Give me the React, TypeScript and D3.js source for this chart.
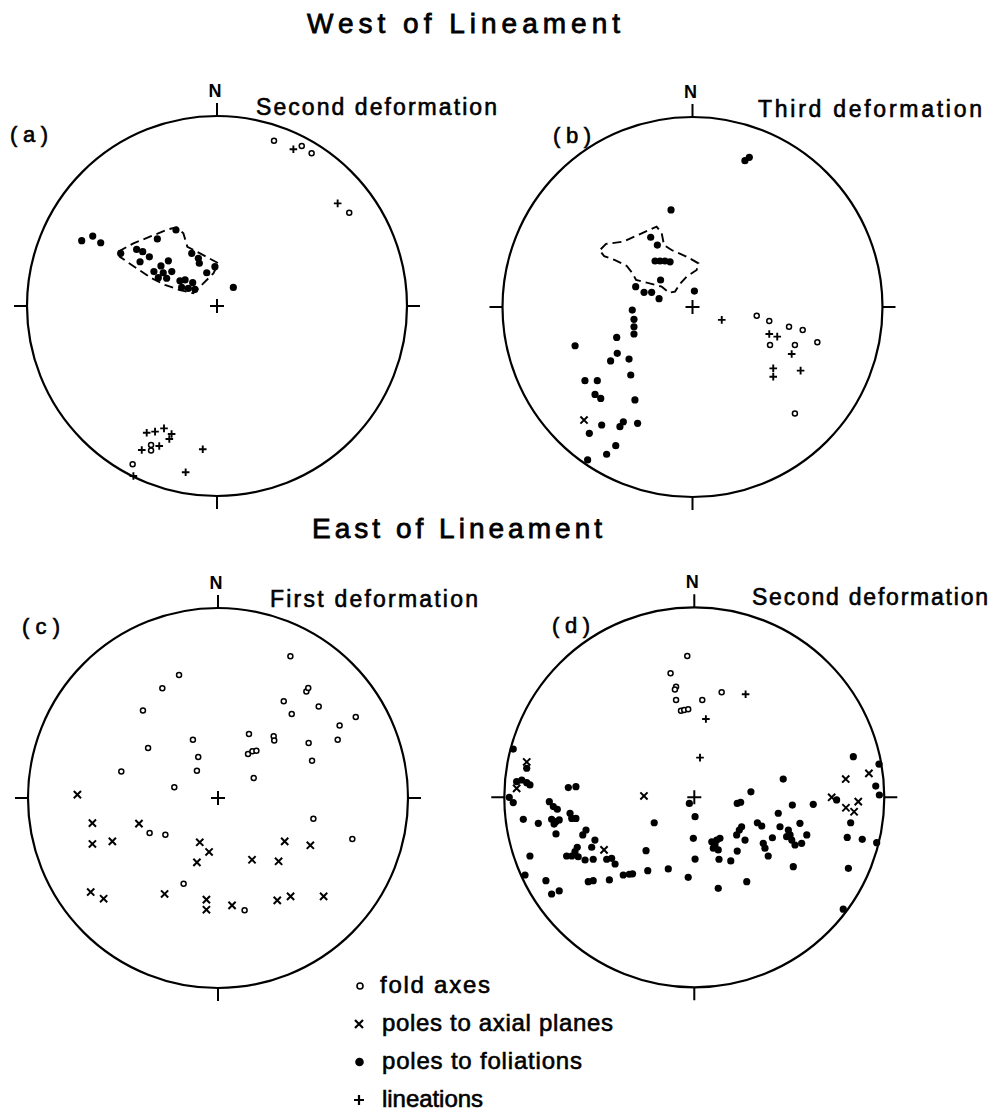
import React from 'react';
import * as d3 from 'd3';

// stereonet points as [east, north] in the unit circle
const aFoldAxes = [
  [0.3, 0.87], [0.446, 0.842], [0.498, 0.804], [0.696, 0.491],
  [-0.444, -0.833], [-0.347, -0.732], [-0.347, -0.761],
];
const aLineations = [
  [0.402, 0.825], [0.635, 0.54], [-0.44, -0.895], [-0.37, -0.667], [-0.326, -0.661],
  [-0.279, -0.644], [-0.239, -0.674], [-0.251, -0.7], [-0.304, -0.737], [-0.396, -0.758],
  [-0.075, -0.754], [-0.165, -0.875],
];
const aFoliations = [
  [-0.712, 0.344], [-0.654, 0.368], [-0.612, 0.333],
  [-0.507, 0.277], [-0.423, 0.298], [-0.391, 0.286], [-0.356, 0.259], [-0.405, 0.233],
  [-0.314, 0.353], [-0.216, 0.4], [-0.256, 0.238], [-0.295, 0.211], [-0.332, 0.181],
  [-0.283, 0.175], [-0.309, 0.149], [-0.265, 0.146], [-0.238, 0.181], [-0.195, 0.133],
  [-0.168, 0.137], [-0.186, 0.098], [-0.151, 0.093], [-0.116, 0.088], [-0.128, 0.123],
  [-0.133, 0.277], [-0.098, 0.251], [-0.093, 0.225], [-0.054, 0.175], [-0.011, 0.207],
  [0.086, 0.098],
];
const aContour = [
  [-0.519, 0.286], [-0.44, 0.33], [-0.353, 0.365], [-0.256, 0.404], [-0.212, 0.414],
  [-0.177, 0.383], [-0.156, 0.312], [-0.089, 0.277], [0.007, 0.225], [-0.019, 0.172],
  [-0.072, 0.119], [-0.125, 0.067], [-0.195, 0.084], [-0.274, 0.111], [-0.344, 0.146],
  [-0.423, 0.198], [-0.511, 0.259],
];

const bFoldAxes = [
  [0.338, -0.046], [0.404, -0.074], [0.508, -0.104], [0.58, -0.121],
  [0.408, -0.2], [0.539, -0.2], [0.657, -0.186], [0.539, -0.56],
];
const bAxialPoles = [[-0.571, -0.595]];
const bLineations = [
  [0.154, -0.068], [0.404, -0.142], [0.446, -0.156], [0.522, -0.247],
  [0.425, -0.323], [0.425, -0.367], [0.569, -0.335],
];
const bFoliations = [
  [0.276, 0.77], [0.299, 0.788], [-0.113, 0.511],
  [-0.22, 0.367], [-0.185, 0.326],
  [-0.197, 0.242], [-0.171, 0.242], [-0.145, 0.242], [-0.118, 0.238], [-0.168, 0.142],
  [-0.299, 0.107], [-0.255, 0.077], [-0.215, 0.077], [-0.176, 0.044], [0.01, 0.084],
  [-0.317, -0.016], [-0.308, -0.065], [-0.308, -0.104], [-0.308, -0.142],
  [-0.399, -0.16], [-0.618, -0.204], [-0.396, -0.244], [-0.431, -0.284], [-0.334, -0.274],
  [-0.325, -0.358], [-0.566, -0.388], [-0.501, -0.388], [-0.513, -0.46], [-0.483, -0.481],
  [-0.303, -0.489], [-0.478, -0.621], [-0.382, -0.63], [-0.364, -0.604], [-0.289, -0.612],
  [-0.543, -0.665], [-0.404, -0.73], [-0.452, -0.775], [-0.552, -0.805],
];
const bContour = [
  [-0.483, 0.304], [-0.455, 0.332], [-0.364, 0.344], [-0.276, 0.384], [-0.189, 0.423],
  [-0.162, 0.388], [-0.15, 0.326], [-0.11, 0.3], [-0.031, 0.265], [0.031, 0.23],
  [0.022, 0.195], [-0.031, 0.16], [-0.066, 0.121], [-0.092, 0.081], [-0.122, 0.075],
  [-0.162, 0.107], [-0.241, 0.128], [-0.297, 0.142], [-0.315, 0.177], [-0.346, 0.216],
  [-0.408, 0.247], [-0.465, 0.268], [-0.483, 0.291],
];

const cFoldAxes = [
  [0.381, 0.746], [-0.205, 0.647], [-0.293, 0.577], [-0.395, 0.46], [0.465, 0.561],
  [0.475, 0.579], [0.346, 0.509], [0.53, 0.482], [0.388, 0.442], [0.725, 0.426],
  [0.64, 0.382], [0.163, 0.337], [0.293, 0.325], [0.296, 0.302], [-0.132, 0.307],
  [-0.368, 0.263], [0.477, 0.289], [0.63, 0.307], [-0.104, 0.216], [0.158, 0.232],
  [0.181, 0.246], [0.202, 0.249], [0.495, 0.196], [-0.509, 0.14], [-0.111, 0.144],
  [0.188, 0.105], [-0.23, 0.056], [0.502, -0.109], [-0.36, -0.184], [-0.277, -0.193],
  [0.707, -0.216], [-0.181, -0.451], [0.14, -0.591],
];
const cAxialPoles = [
  [-0.74, 0.018], [-0.661, -0.132], [-0.416, -0.135], [-0.661, -0.242], [-0.556, -0.228],
  [-0.096, -0.233], [-0.047, -0.284], [-0.111, -0.339], [0.179, -0.325], [0.319, -0.333],
  [0.351, -0.228], [0.486, -0.249], [-0.67, -0.495], [-0.602, -0.53], [-0.281, -0.505],
  [-0.061, -0.535], [-0.061, -0.588], [0.074, -0.565], [0.312, -0.539], [0.382, -0.518],
  [0.556, -0.518],
];

const dFoldAxes = [
  [-0.037, 0.744], [-0.125, 0.653], [-0.096, 0.582], [-0.102, 0.568], [-0.096, 0.512],
  [-0.07, 0.456], [-0.053, 0.46], [-0.032, 0.463], [0.042, 0.512], [0.144, 0.553],
];
const dLineations = [[0.27, 0.542], [0.061, 0.412], [0.03, 0.209]];
const dAxialPoles = [
  [-0.882, 0.186], [-0.935, 0.047], [-0.265, 0.007], [-0.475, -0.277], [0.723, 0.0],
  [0.797, 0.096], [0.919, 0.126], [0.798, -0.055], [0.863, -0.023], [0.841, -0.076],
];
const dFoliations = [
  [-0.953, 0.254], [-0.882, 0.153], [-0.935, 0.082], [-0.908, 0.091], [-0.882, 0.077],
  [-0.865, 0.065], [-0.974, 0.0], [-0.953, -0.028], [-0.9, -0.116], [-0.821, -0.137],
  [-0.663, 0.051], [-0.623, 0.056], [-0.763, -0.023], [-0.742, -0.049], [-0.721, -0.063],
  [-0.751, -0.116], [-0.728, -0.128], [-0.711, -0.119], [-0.738, -0.141], [-0.654, -0.084],
  [-0.645, -0.111], [-0.623, -0.111], [-0.728, -0.193], [-0.57, -0.172], [-0.587, -0.198],
  [-0.523, -0.225], [-0.54, -0.263], [-0.616, -0.263], [-0.628, -0.286], [-0.645, -0.309],
  [-0.672, -0.309], [-0.611, -0.313], [-0.575, -0.33], [-0.532, -0.326], [-0.461, -0.326],
  [-0.435, -0.321], [-0.417, -0.351], [-0.865, -0.309], [-0.891, -0.409], [-0.781, -0.439],
  [-0.751, -0.509], [-0.711, -0.493], [-0.558, -0.444], [-0.532, -0.439], [-0.447, -0.435],
  [-0.374, -0.409], [-0.342, -0.405], [-0.325, -0.403], [-0.245, -0.386], [-0.137, -0.377],
  [-0.032, -0.421], [-0.254, -0.281], [-0.211, -0.134], [-0.026, -0.032], [0.004, -0.102],
  [-0.005, -0.216], [0.004, -0.325],
  [0.126, -0.479], [0.276, -0.444], [0.298, 0.029], [0.226, -0.032], [0.244, -0.026],
  [0.468, 0.096], [0.092, -0.234], [0.109, -0.251], [0.118, -0.225], [0.135, -0.216],
  [0.1, -0.268], [0.126, -0.277], [0.13, -0.326], [0.192, -0.335], [0.226, -0.283],
  [0.267, -0.225], [0.237, -0.172], [0.249, -0.155], [0.223, -0.198], [0.332, -0.134],
  [0.355, -0.151], [0.363, -0.242], [0.372, -0.268], [0.389, -0.309], [0.411, -0.213],
  [0.442, -0.084], [0.451, -0.155], [0.516, -0.041], [0.495, -0.172], [0.504, -0.198],
  [0.513, -0.225], [0.53, -0.251], [0.486, -0.207], [0.556, -0.137], [0.565, -0.242],
  [0.592, -0.198], [0.521, -0.365], [0.626, -0.037], [0.749, -0.014], [0.972, 0.175],
  [0.955, 0.059], [0.974, 0.012], [0.823, -0.134], [0.805, -0.211], [0.884, -0.221],
  [0.96, -0.239], [0.811, -0.374], [0.837, 0.214], [0.784, -0.589],
];

const legendLabels = ['fold axes', 'poles to axial planes', 'poles to foliations', 'lineations'];

const W = 1003;
const H = 1114;
const R = 190;
const FONT = "'Liberation Sans', Arial, sans-serif";
// thin outline on the glyphs to get the heavier lettering-guide look
const INK = { fill: '#000', stroke: '#000', strokeWidth: 0.6 };

const panels = [
  {
    id: '(a)', cx: 217, cy: 306, title: 'Second deformation', tx: 256, ty: 115, tw: 241,
    lx: 10, ly: 142, fold: aFoldAxes, axial: [], fol: aFoliations, lin: aLineations, contour: aContour,
  },
  {
    id: '(b)', cx: 692.5, cy: 307, title: 'Third deformation', tx: 758, ty: 117, tw: 224,
    lx: 553, ly: 143, fold: bFoldAxes, axial: bAxialPoles, fol: bFoliations, lin: bLineations, contour: bContour,
  },
  {
    id: '(c)', cx: 218, cy: 798, title: 'First deformation', tx: 270, ty: 607, tw: 208,
    lx: 22, ly: 634, fold: cFoldAxes, axial: cAxialPoles, fol: [], lin: [], contour: null,
  },
  {
    id: '(d)', cx: 694.3, cy: 797.3, title: 'Second deformation', tx: 752, ty: 605, tw: 236,
    lx: 552, ly: 633, fold: dFoldAxes, axial: dAxialPoles, fol: dFoliations, lin: dLineations, contour: null,
  },
];

const plus = (x, y, s) => `M${x - s},${y}H${x + s}M${x},${y - s}V${y + s}`;
const cross = (x, y, s) => `M${x - s},${y - s}L${x + s},${y + s}M${x + s},${y - s}L${x - s},${y + s}`;

function Stereonet({ p }) {
  const x = d3.scaleLinear().domain([-1, 1]).range([p.cx - R, p.cx + R]);
  const y = d3.scaleLinear().domain([-1, 1]).range([p.cy + R, p.cy - R]);
  const r = x(1) - x(0);
  const line = d3.line().x((d) => x(d[0])).y((d) => y(d[1])).curve(d3.curveLinearClosed);
  const tick = 13;

  return (
    <g>
      <circle cx={x(0)} cy={y(0)} r={r} fill="none" stroke="#000" strokeWidth={2.2} />
      <path
        d={`M${x(0)},${y(1)}V${y(1) - tick}M${x(0)},${y(-1)}V${y(-1) + tick}M${x(-1)},${y(0)}H${x(-1) - tick}M${x(1)},${y(0)}H${x(1) + tick}`}
        stroke="#000" strokeWidth={2} fill="none"
      />
      <path d={plus(x(0), y(0), 7)} stroke="#000" strokeWidth={2} fill="none" />
      <text x={x(0) - 2} y={y(1) - 19} textAnchor="middle" fontSize={18} fontWeight="bold" fontFamily={FONT}>N</text>
      <text x={p.tx} y={p.ty} fontSize={23} fontFamily={FONT} textLength={p.tw} lengthAdjust="spacing" {...INK}>{p.title}</text>
      <text x={p.lx} y={p.ly} fontSize={22} fontFamily={FONT} textLength={38} lengthAdjust="spacing" {...INK}>{p.id}</text>

      {p.contour && (
        <path d={line(p.contour)} fill="none" stroke="#000" strokeWidth={1.9} strokeDasharray="9 5" />
      )}
      {p.fol.map((d, i) => (
        <circle key={'f' + i} cx={x(d[0])} cy={y(d[1])} r={3.6} fill="#000" />
      ))}
      {p.fold.map((d, i) => (
        <circle key={'o' + i} cx={x(d[0])} cy={y(d[1])} r={2.5} fill="#fff" stroke="#000" strokeWidth={1.5} />
      ))}
      {p.axial.map((d, i) => (
        <path key={'x' + i} d={cross(x(d[0]), y(d[1]), 3.6)} stroke="#000" strokeWidth={2} fill="none" />
      ))}
      {p.lin.map((d, i) => (
        <path key={'l' + i} d={plus(x(d[0]), y(d[1]), 3.8)} stroke="#000" strokeWidth={1.9} fill="none" />
      ))}
    </g>
  );
}

function Legend() {
  const rows = d3.scaleLinear().domain([0, 3]).range([993, 1107]);
  const widths = [110, 231, 200, 101];
  return (
    <g>
      {legendLabels.map((label, i) => {
        const by = rows(i);
        const sy = by - 7;
        let mark;
        if (i === 0) mark = <circle cx={360} cy={sy} r={3} fill="#fff" stroke="#000" strokeWidth={1.6} />;
        else if (i === 1) mark = <path d={cross(359, sy, 4)} stroke="#000" strokeWidth={2.2} fill="none" />;
        else if (i === 2) mark = <circle cx={359.5} cy={sy} r={4.3} fill="#000" />;
        else mark = <path d={plus(359, sy, 5)} stroke="#000" strokeWidth={2.2} fill="none" />;
        return (
          <g key={label}>
            {mark}
            <text x={i === 0 ? 380 : 382} y={by} fontSize={24} fontFamily={FONT} textLength={widths[i]} lengthAdjust="spacing" {...INK}>
              {label}
            </text>
          </g>
        );
      })}
    </g>
  );
}

export default function App() {
  return (
    <svg
      width={W}
      height={H}
      viewBox={`0 0 ${W} ${H}`}
      style={{ position: 'absolute', left: 0, top: 0, background: '#fff' }}
    >
      <rect width={W} height={H} fill="#fff" />
      <text x={307} y={33} fontSize={28} fontFamily={FONT} textLength={313} lengthAdjust="spacing" {...INK} strokeWidth={0.8}>West of Lineament</text>
      <text x={312} y={538} fontSize={28} fontFamily={FONT} textLength={290} lengthAdjust="spacing" {...INK} strokeWidth={0.8}>East of Lineament</text>
      {panels.map((p) => (
        <Stereonet key={p.id} p={p} />
      ))}
      <Legend />
    </svg>
  );
}
